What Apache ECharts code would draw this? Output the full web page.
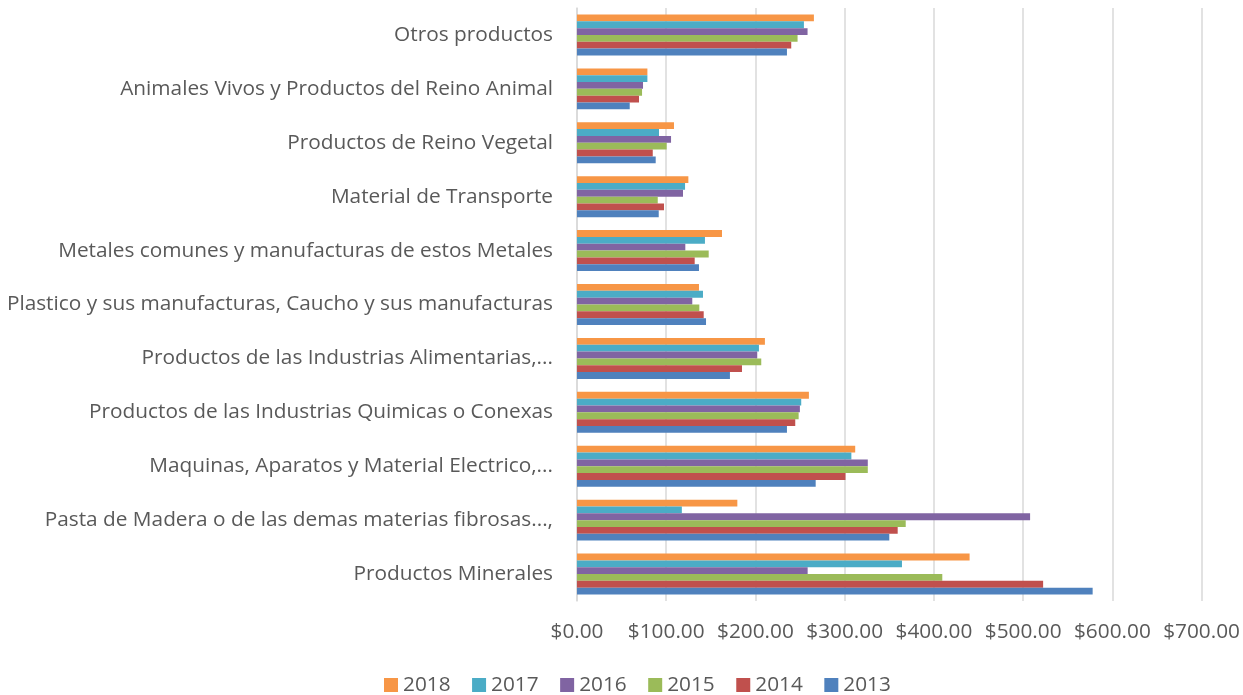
<!DOCTYPE html>
<html>
<head>
<meta charset="utf-8">
<script src="https://cdn.jsdelivr.net/npm/echarts@6/dist/echarts.min.js"></script>
<style>
html,body{margin:0;padding:0;background:#fff;}
#chart{width:1243px;height:695px;}
</style>
</head>
<body>
<div id="chart"></div>
<script>
// Categories, bottom to top
const categories = [
  "Productos Minerales",
  "Pasta de Madera o de las demas materias fibrosas...,",
  "Maquinas, Aparatos y Material Electrico,...",
  "Productos de las Industrias Quimicas o Conexas",
  "Productos de las Industrias Alimentarias,...",
  "Plastico y sus manufacturas, Caucho y sus manufacturas",
  "Metales comunes y manufacturas de estos Metales",
  "Material de Transporte",
  "Productos de Reino Vegetal",
  "Animales Vivos y Productos del Reino Animal",
  "Otros productos"
];
const years = ["2018", "2017", "2016", "2015", "2014", "2013"];
const v2018 = [440.0, 179.7, 311.8, 259.9, 210.6, 136.7, 162.5, 124.8, 108.7, 78.9, 265.5];
const v2017 = [364.2, 117.5, 307.5, 251.3, 203.9, 141.2, 143.4, 121.1, 91.9, 78.9, 254.3];
const v2016 = [258.5, 507.8, 325.9, 249.8, 202.0, 129.2, 121.4, 118.8, 105.4, 74.0, 258.4];
const v2015 = [409.4, 368.4, 325.9, 248.4, 206.5, 137.1, 147.6, 90.5, 100.5, 72.9, 247.2];
const v2014 = [522.4, 359.4, 300.9, 244.6, 184.9, 142.0, 131.9, 97.5, 84.9, 69.5, 240.1];
const v2013 = [577.9, 350.0, 267.5, 235.3, 171.4, 144.6, 136.7, 91.6, 88.2, 59.1, 235.3];
const xTicks = [0, 100, 200, 300, 400, 500, 600, 700];

const seriesValues = [v2018, v2017, v2016, v2015, v2014, v2013];
const colors = ["#F79646", "#4BACC6", "#8064A2", "#9BBB59", "#C0504D", "#4F81BD"];
const FONT = "Open Sans";
const TXT = "#595959";

const chart = echarts.init(document.getElementById('chart'));
chart.setOption({
  animation: false,
  backgroundColor: '#ffffff',
  color: colors,
  textStyle: { fontFamily: FONT },
  grid: { left: 577, right: 40, top: 8, bottom: 94, containLabel: false },
  legend: {
    data: years,
    left: 384,
    top: 674,
    padding: 0,
    itemWidth: 14,
    itemHeight: 14,
    itemGap: 21.5,
    icon: 'rect',
    textStyle: { fontFamily: FONT, fontSize: 20.8, lineHeight: 22, color: TXT, padding: [0, 0, 0, 0] }
  },
  xAxis: {
    type: 'value',
    min: xTicks[0],
    max: xTicks[xTicks.length - 1],
    interval: 100,
    axisLine: { show: false },
    axisTick: { show: false },
    splitLine: { show: true, lineStyle: { color: '#d9d9d9', width: 1.5 } },
    axisLabel: {
      margin: 21,
      fontFamily: FONT,
      fontSize: 20.8,
      color: TXT,
      formatter: function (v) { return '$' + v.toFixed(2); }
    }
  },
  yAxis: {
    type: 'category',
    data: categories,
    axisLine: { show: true, lineStyle: { color: '#d9d9d9', width: 1.5 } },
    axisTick: { show: false },
    axisLabel: { margin: 24, fontFamily: FONT, fontSize: 20.8, color: TXT }
  },
  series: years.map(function (y, i) {
    return {
      name: y,
      type: 'bar',
      data: seriesValues[i],
      barGap: '0%',
      barCategoryGap: '24%',
      itemStyle: { color: colors[i] }
    };
  })
});
</script>
</body>
</html>
